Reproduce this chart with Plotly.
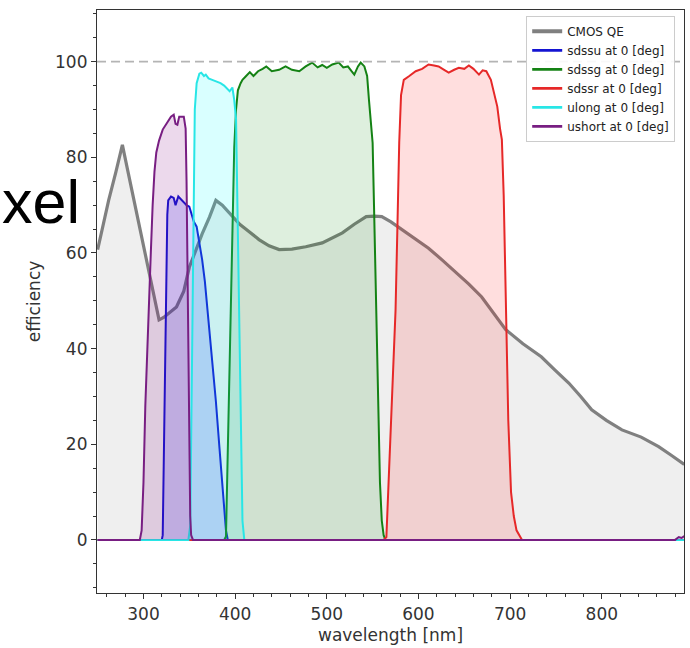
import plotly.graph_objects as go

# ---------------- data ----------------
qe_wl = [250, 255, 262, 270, 277, 282, 288, 294, 300, 306, 312, 317, 322, 328, 336, 344,
         350, 357, 364, 372, 379, 386, 394, 405, 415, 426, 437, 448, 462, 477, 495, 505,
         517, 530, 543, 552, 560, 570, 579, 595, 611, 626, 641, 655, 669, 682, 695, 714,
         734, 749, 764, 777, 789, 805, 822, 843, 862, 875, 888, 890]
qe_eff = [60.7, 65, 71, 77, 82.6, 78, 72.5, 67, 61.5, 56, 50.5, 46, 46.5, 47.5, 48.7, 52,
          57, 60.5, 64, 67.5, 71, 70, 68.4, 66, 64.5, 62.8, 61.5, 60.7, 60.8, 61.3, 62.1, 63,
          64.2, 66, 67.6, 67.7, 67.6, 66.5, 65.3, 63, 61, 58.5, 56, 53.5, 50.8, 47.5, 44, 41,
          38.3, 35.5, 32.8, 30, 27.2, 25, 23, 21.5, 19.5, 17.8, 16.1, 15.8]

sdssu_wl = [250, 320, 321, 322, 323, 324, 325, 326, 327, 330, 333, 335, 338, 342, 347, 350,
            355, 358, 361, 364, 367, 370, 374, 379, 383, 386, 388, 390, 392, 890]
sdssu_eff = [0, 0, 1, 15, 30, 45, 58, 68, 71, 71.8, 71.5, 70, 71.8, 71, 70, 69.7,
             66.5, 65.5, 62, 58.6, 54, 48, 40, 29, 19, 11, 6, 2, 0, 0]

sdssg_wl = [250, 388, 390, 393, 395, 397, 399, 401, 403, 406, 408, 412, 416, 420, 425, 430,
            434, 440, 448, 455, 462, 470, 477, 484, 490, 495, 500, 506, 513, 518, 523, 527,
            530, 534, 537, 541, 544, 546, 548, 550, 551.5, 553, 554.5, 556, 558, 560, 562,
            564, 890]
sdssg_eff = [0, 0, 0.7, 30, 50, 70, 82, 90, 94, 95.5, 96.2, 97, 97.8, 97, 98, 98.5,
             99, 98, 98.3, 99, 98.3, 98, 99, 99.8, 98.8, 99.3, 98.7, 99.4, 99.8, 98.8, 99, 98,
             97.3, 99, 99.8, 99, 97, 92, 88, 83, 70, 55, 40, 25, 12, 4, 1,
             0, 0]

sdssr_wl = [250, 562, 565, 568, 571, 575, 577, 579, 581, 584, 590, 597, 604, 611, 617, 622,
            628, 633, 639, 644, 650, 655, 660, 666, 670, 674, 679, 683, 686, 689, 691, 693,
            694, 696, 698, 701, 704, 707, 710, 713, 890]
sdssr_eff = [0, 0, 0.6, 14, 30, 48, 65, 83, 93, 96.2, 97, 98, 98.5, 99.4, 99.2, 99,
             98.3, 97.7, 98.3, 98.7, 98.5, 99.2, 98.5, 97.3, 98.2, 98, 96.2, 93, 90.6, 86, 83.7, 72,
             62, 40, 25, 10, 5, 2, 1, 0, 0]

ulong_wl = [250, 349, 351, 352, 353, 354, 355, 356, 358, 361, 363, 366, 368, 371, 375, 380,
            384, 388, 391, 394, 397, 399, 401, 402, 403, 404.5, 406, 407, 408, 410, 890]
ulong_eff = [0, 0, 3, 20, 40, 60, 78, 90, 95.5, 97.5, 97.7, 97, 97.3, 96.5, 96.2, 95.8,
             95.5, 95, 94.3, 93.8, 94.6, 92, 88, 75, 60, 50, 30, 15, 4, 0, 0]

ushort_wl = [250, 296, 298, 300, 302, 304, 306, 308, 310, 312, 314, 317, 321, 325, 330, 333,
             335, 337, 339, 344, 346, 347, 348, 349, 350, 351, 352, 354, 880, 884, 887, 890]
ushort_eff = [0, 0, 2, 12, 28, 40, 48, 60, 70, 77, 81, 83.5, 85.8, 87, 88.5, 88.9,
              87, 86.8, 88.5, 88.5, 86, 75, 55, 35, 15, 5, 1, 0, 0, 0.6, 0.4, 0.8]

reference_level = 100
x_range = [249.3, 889.7]
y_range = [-11.1, 110.8]
x_ticks = [300, 400, 500, 600, 700, 800]
y_ticks = [0, 20, 40, 60, 80, 100]

series = [
    ("CMOS QE", qe_wl, qe_eff, "rgb(128,128,128)", "rgba(128,128,128,0.13)", 3.2),
    ("sdssu at 0 [deg]", sdssu_wl, sdssu_eff, "rgb(20,20,210)", "rgba(0,0,255,0.15)", 2),
    ("sdssg at 0 [deg]", sdssg_wl, sdssg_eff, "rgb(20,130,20)", "rgba(0,128,0,0.13)", 2),
    ("sdssr at 0 [deg]", sdssr_wl, sdssr_eff, "rgb(230,40,40)", "rgba(255,0,0,0.13)", 2),
    ("ulong at 0 [deg]", ulong_wl, ulong_eff, "rgb(40,230,230)", "rgba(0,255,255,0.15)", 2),
    ("ushort at 0 [deg]", ushort_wl, ushort_eff, "rgb(120,30,130)", "rgba(128,0,128,0.15)", 2),
]

FONT = "DejaVu Sans"
fig = go.Figure()

for name, wl, eff, col, fcol, lw in series:
    fig.add_trace(go.Scatter(x=wl, y=eff, mode="lines", fill="tozeroy", fillcolor=fcol,
                             line=dict(color=col, width=lw), showlegend=False, hoverinfo="skip"))

# legend-only entries (line samples)
for name, wl, eff, col, fcol, lw in series:
    fig.add_trace(go.Scatter(x=[None], y=[None], mode="lines", name=name,
                             line=dict(color=col, width=lw + 0.8), showlegend=True))

fig.add_shape(type="line", xref="paper", x0=0, x1=1, yref="y", y0=reference_level, y1=reference_level,
              line=dict(color="rgb(180,180,180)", width=1.6, dash="9px,5px"), layer="above")

fig.add_annotation(text="xel", xref="paper", yref="paper", x=-0.166, y=0.671,
                   xanchor="left", yanchor="middle", showarrow=False,
                   font=dict(family="Liberation Sans", size=61, color="black"))

axis_common = dict(showline=True, linecolor="#333", linewidth=1.2, mirror=True,
                   ticks="outside", ticklen=5, tickwidth=1, tickcolor="#333",
                   showgrid=False, zeroline=False,
                   tickfont=dict(family=FONT, size=17, color="#333"))

fig.update_xaxes(range=x_range, tickvals=x_ticks,
                 minor=dict(dtick=20, ticks="outside", ticklen=3, tickcolor="#333", showgrid=False),
                 title=dict(text="wavelength [nm]", font=dict(family=FONT, size=17, color="#333"), standoff=6),
                 **axis_common)
fig.update_yaxes(range=y_range, tickvals=y_ticks,
                 minor=dict(dtick=5, ticks="outside", ticklen=3, tickcolor="#333", showgrid=False),
                 title=dict(text="efficiency", font=dict(family=FONT, size=17, color="#333"), standoff=10),
                 **axis_common)

fig.update_layout(
    width=690, height=648,
    margin=dict(l=97, r=6, t=10, b=55),
    plot_bgcolor="white", paper_bgcolor="white",
    legend=dict(x=0.985, y=0.99, xanchor="right", yanchor="top",
                bgcolor="rgba(255,255,255,0.9)", bordercolor="rgb(204,204,204)", borderwidth=1,
                font=dict(family=FONT, size=12, color="#222"), itemwidth=30, tracegroupgap=0),
    font=dict(family=FONT),
)

fig.write_html("out.html")
